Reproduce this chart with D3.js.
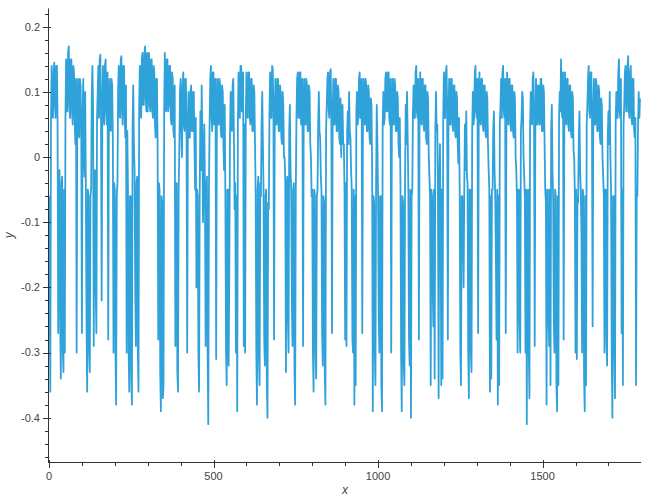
<!DOCTYPE html>
<html><head><meta charset="utf-8">
<script src="https://cdn.jsdelivr.net/npm/d3@7/dist/d3.min.js"></script>
<style>body{margin:0;background:#fff}</style></head>
<body>
<svg id="chart" width="666" height="500"></svg>
<script>
const xStep = 2;
const seg1 = [-0.06,-0.2,-0.36,0.05,0.14,0.07,0.06,0.13,0.145,0.08,0.06,0.14,0.14,0.06,-0.27,-0.03,-0.02,-0.25,-0.34,-0.04,-0.03,-0.3,-0.33,-0.05,-0.3,0.06,0.15,0.07,0.07,0.16,0.17,0.08,0.06,0.15,0.15,0.07,0.05,0.14,0.13,0.06,0.02,0.12,-0.3,0.05,0.12,0.04,0.03,0.12,0.11,0.04,-0.27,0.05,0.12,0.0,-0.03,0.1,-0.05,-0.25,-0.36,-0.05,-0.06,-0.3,-0.33,-0.06,-0.05,0.1,0.14,0.07,-0.29,-0.03,-0.02,-0.2,-0.27,0.06,0.1,0.14,0.06,0.15,0.157,0.07,-0.22,0.06,0.14,0.07,0.05,0.14,0.15,0.07,0.05,0.13,-0.28,0.06,0.12,0.05,0.04,0.12,0.11,0.03,-0.3,-0.04,-0.05,-0.3,-0.38,-0.06,-0.04,0.1,0.14,0.07,0.06,0.15,0.155,0.07,0.05,0.14,0.14,0.06,0.03,0.11,-0.3,0.04,-0.05,-0.3,-0.36,-0.06,-0.06,-0.33,-0.38,0.05,0.11,0.02,-0.02,-0.2,-0.29,-0.04,-0.03,-0.3,-0.36,0.08,0.14,0.07,0.06,0.15,0.16,0.08,0.08,0.16,0.17,0.09,0.07,0.16];
const seg2 = [0.07,0.15,0.16,0.08,0.07,0.15,0.15,0.07,0.06,0.14,0.13,0.05,0.03,0.12,0.12,0.02,-0.28,-0.04,-0.05,-0.33,-0.39,-0.06,-0.07,-0.37,-0.35,0.07,0.16,0.08,0.07,0.15,0.15,0.07,0.08,0.14,0.14,0.06,0.05,0.13,0.12,0.04,0.03,0.11,-0.29,-0.04,-0.04,-0.33,-0.36,-0.05,0.01,0.1,0.12,0.04,0.0,0.11,0.13,0.05,0.04,0.12,0.12,0.03,-0.3,0.04,0.1,0.03,0.03,0.1,0.11,0.04,0.04,0.1,0.1,0.02,-0.05,0.06,-0.2,-0.05,-0.06,-0.3,-0.36,-0.06,0.07,-0.02,0.11,0.03,-0.1,-0.02,0.05,-0.06,-0.29,-0.05,-0.03,-0.3,-0.41,-0.05,0.05,0.12,0.14,0.06,0.04,0.13,0.13,0.05,0.05,0.12,-0.31,0.04,0.12,0.05,0.05,0.12,0.11,0.04,0.03,0.11,0.1,0.02,-0.02,0.08,-0.06,-0.3,-0.35,-0.05,-0.05,-0.32,-0.17,0.03,0.1,0.05,0.04,0.11,0.12,0.03,-0.08,-0.04,-0.3,-0.06,-0.39,0.05,0.13,0.07,0.06,0.14,0.14,0.07,0.07,0.13,-0.29,0.05];
const seg3 = [-0.3,0.06,0.13,0.07,0.06,0.13,0.13,0.06,0.05,0.12,0.12,0.04,0.04,0.11,0.1,0.02,-0.05,-0.3,-0.38,-0.05,-0.03,-0.31,-0.35,-0.04,-0.06,0.05,0.1,0.02,-0.05,-0.28,-0.32,-0.06,-0.05,-0.35,-0.4,-0.07,-0.08,0.07,0.13,0.06,0.06,0.14,0.135,0.07,-0.28,0.06,0.12,0.05,0.05,0.12,0.12,0.04,0.04,0.11,0.1,0.03,0.02,0.1,0.08,0.0,0.0,-0.04,-0.33,-0.05,-0.03,-0.25,-0.3,0.04,0.08,-0.02,-0.05,-0.22,-0.29,-0.05,-0.04,-0.33,-0.38,-0.05,0.06,0.12,0.13,0.06,0.06,0.13,0.13,0.05,0.05,0.12,-0.29,0.05,0.12,0.05,0.05,0.12,0.11,0.04,0.04,0.11,0.1,0.02,0.0,-0.06,-0.05,-0.3,-0.36,-0.05,-0.06,-0.3,-0.34,-0.06,-0.05,0.05,0.1,0.04,0.03,-0.03,-0.05,-0.27,-0.32,-0.06,-0.07,-0.33,-0.38,0.04,0.08,0.12,0.13,0.07,0.06,0.13,0.135,0.06,-0.27,0.06,0.12,0.05,0.05,0.12,0.12,0.04,0.04,0.11,0.1,0.03,0.02,0.09,0.0,0.07];
const seg4 = [0.08,0.02,0.02,-0.05,-0.28,-0.04,-0.29,0.04,0.07,0.02,0.1,0.04,0.03,-0.02,-0.05,-0.28,-0.3,-0.05,-0.38,-0.06,-0.35,0.07,0.1,0.05,0.06,0.12,0.13,0.06,0.06,0.12,-0.27,0.05,0.12,0.05,0.05,0.12,0.11,0.04,0.04,0.11,0.1,0.03,0.02,0.09,0.08,-0.02,-0.39,-0.06,-0.07,-0.3,-0.35,-0.04,0.08,0.02,-0.06,-0.25,-0.3,-0.06,-0.06,-0.35,-0.39,0.05,0.1,0.05,0.06,0.12,0.13,0.07,0.07,0.13,0.13,0.06,0.05,0.12,-0.3,0.05,0.12,0.05,0.05,0.12,0.11,0.04,0.04,0.1,0.09,0.02,0.0,0.06,-0.04,-0.3,-0.39,-0.06,-0.07,-0.32,-0.35,-0.04,0.08,0.02,0.1,0.03,-0.05,-0.28,-0.32,-0.05,-0.4,-0.06,-0.05,0.07,0.11,0.06,0.06,0.13,0.14,0.07,0.06,0.12,-0.28,0.05,0.13,0.06,0.05,0.12,0.12,0.05,0.04,0.11,0.11,0.03,0.02,0.1,0.09,0.0,-0.03,-0.06,-0.35,-0.05,-0.06,-0.2,-0.26,-0.05,-0.34,0.04,0.1,0.04,0.05,-0.05,-0.37,-0.05,0.02,-0.08];
const seg5 = [-0.35,-0.05,-0.34,0.06,0.13,0.06,0.06,0.13,0.14,0.07,-0.28,0.06,0.12,0.05,0.05,0.12,0.12,0.05,0.04,0.11,0.11,0.04,0.03,0.1,0.09,0.02,-0.01,0.06,-0.05,-0.3,-0.35,-0.06,-0.06,-0.12,-0.2,-0.05,0.05,-0.02,0.07,-0.03,-0.04,-0.3,-0.37,-0.05,-0.05,-0.3,-0.33,0.04,0.1,0.05,0.06,0.13,0.14,0.07,0.06,0.12,-0.27,0.06,0.13,0.06,0.05,0.12,0.12,0.05,0.04,0.11,0.11,0.04,0.03,0.1,0.09,0.02,-0.02,-0.05,-0.36,-0.06,-0.34,-0.05,-0.05,0.04,0.07,-0.02,-0.06,-0.15,-0.28,-0.05,-0.38,-0.06,-0.35,0.05,0.08,0.12,0.06,0.13,0.14,0.07,0.06,0.12,-0.27,0.05,0.13,0.06,0.05,0.12,0.12,0.05,0.04,0.11,0.11,0.04,0.03,0.1,0.09,0.0,-0.02,-0.06,-0.3,-0.05,-0.05,-0.25,-0.3,0.04,0.06,0.1,0.09,0.0,-0.03,-0.06,-0.3,-0.05,-0.41,-0.06,-0.05,-0.3,-0.37,0.05,0.1,0.06,0.05,0.12,0.13,0.06,-0.29,0.05,0.12,0.05,0.05,0.11];
const seg6 = [0.11,0.05,0.05,0.12,0.12,0.04,0.04,0.11,0.1,0.02,-0.05,-0.07,-0.38,-0.05,-0.05,-0.25,-0.29,-0.05,-0.35,0.04,0.08,-0.02,-0.06,-0.25,-0.3,-0.05,-0.06,-0.35,-0.39,-0.06,-0.35,0.06,0.1,0.07,0.15,0.07,0.06,0.13,-0.28,0.06,0.13,0.06,0.05,0.12,0.12,0.05,0.04,0.11,0.11,0.04,0.03,0.1,0.09,0.01,0.0,-0.06,-0.3,-0.05,-0.31,-0.06,-0.07,0.03,0.07,-0.02,-0.05,-0.12,-0.3,-0.05,-0.06,-0.34,-0.39,-0.06,-0.35,0.05,0.08,0.12,0.14,0.07,0.06,0.13,0.13,0.06,-0.26,0.06,0.12,0.05,0.05,0.12,0.11,0.04,0.04,0.11,0.1,0.03,0.02,0.09,0.08,0.0,-0.03,-0.06,-0.3,-0.05,-0.05,-0.28,-0.32,0.03,0.07,0.02,0.1,0.0,-0.05,-0.3,-0.4,-0.06,-0.06,-0.3,-0.37,0.05,0.1,0.06,0.06,0.13,0.15,0.07,0.06,0.12,-0.27,-0.05,-0.35,0.05,0.08,0.13,0.14,0.07,0.07,0.14,0.155,0.07,0.06,0.13,0.14,0.06,0.05,0.12,0.12,0.04,0.03,0.06,-0.35,-0.05,-0.06,0.05,0.1,0.06,0.09];
const xTickValues = [0, 500, 1000, 1500];
const xMinorStep = 100;
const yTickValues = [-0.4, -0.3, -0.2, -0.1, 0, 0.1, 0.2];
const yMinorStep = 0.02;
const xLabel = "x", yLabel = "y";
const lineColor = "#30a2da";

// ---- build ----
const yValues = [].concat(seg1, seg2, seg3, seg4, seg5, seg6);
const data = yValues.map((v, i) => ({x: i * xStep, y: v}));

const plot = {left: 49, right: 641, top: 8.5, bottom: 462};
const svg = d3.select("#chart");

const xExt = d3.extent(data, d => d.x);
const x = d3.scaleLinear().domain([xExt[0], Math.max(xExt[1], 1799)]).range([plot.left, plot.right]);
const yExt = d3.extent(data, d => d.y);
const pad = (yExt[1] - yExt[0]) * 0.1;
const y = d3.scaleLinear().domain([yExt[0] - pad, yExt[1] + pad]).range([plot.bottom, plot.top]);

// line
svg.append("path")
  .datum(data)
  .attr("fill", "none")
  .attr("stroke", lineColor)
  .attr("stroke-width", 1.8)
  .attr("stroke-linejoin", "round")
  .attr("d", d3.line().x(d => x(d.x)).y(d => y(d.y)));

const fontFam = "Helvetica, Arial, 'Liberation Sans', sans-serif";
const axisColor = "#333";

// minor ticks
const xMinor = d3.range(0, x.domain()[1], xMinorStep).filter(v => !xTickValues.includes(v));
const yD = y.domain();
const yMinor = [];
for (let k = Math.ceil(yD[0] / yMinorStep); k * yMinorStep <= yD[1]; k++) {
  const v = +(k * yMinorStep).toFixed(2);
  if (!yTickValues.some(t => Math.abs(t - v) < 1e-9)) yMinor.push(v);
}

// x axis
const gx = svg.append("g").attr("transform", `translate(0,${plot.bottom})`);
gx.append("line").attr("x1", plot.left).attr("x2", plot.right).attr("y1", 0.5).attr("y2", 0.5)
  .attr("stroke", axisColor).attr("stroke-width", 1);
gx.selectAll(".mj").data(xTickValues).join("line")
  .attr("x1", d => Math.round(x(d)) + 0.5).attr("x2", d => Math.round(x(d)) + 0.5)
  .attr("y1", -2).attr("y2", 6).attr("stroke", axisColor);
gx.selectAll(".mn").data(xMinor).join("line")
  .attr("x1", d => Math.round(x(d)) + 0.5).attr("x2", d => Math.round(x(d)) + 0.5)
  .attr("y1", 0).attr("y2", 4).attr("stroke", axisColor);
gx.selectAll("text").data(xTickValues).join("text")
  .attr("x", d => x(d)).attr("y", 18)
  .attr("text-anchor", "middle")
  .attr("font-family", fontFam).attr("font-size", 11).attr("fill", "#444")
  .text(d => d3.format("d")(d));

// y axis
const gy = svg.append("g").attr("transform", `translate(${plot.left},0)`);
gy.append("line").attr("x1", -0.5).attr("x2", -0.5).attr("y1", plot.top).attr("y2", plot.bottom + 1)
  .attr("stroke", axisColor).attr("stroke-width", 1);
gy.selectAll(".mj").data(yTickValues).join("line")
  .attr("y1", d => Math.round(y(d)) + 0.5).attr("y2", d => Math.round(y(d)) + 0.5)
  .attr("x1", -6).attr("x2", 2).attr("stroke", axisColor);
gy.selectAll(".mn").data(yMinor).join("line")
  .attr("y1", d => Math.round(y(d)) + 0.5).attr("y2", d => Math.round(y(d)) + 0.5)
  .attr("x1", -4).attr("x2", 0).attr("stroke", axisColor);
gy.selectAll("text").data(yTickValues).join("text")
  .attr("x", -9).attr("y", d => y(d)).attr("dy", "0.35em")
  .attr("text-anchor", "end")
  .attr("font-family", fontFam).attr("font-size", 11).attr("fill", "#444")
  .text(d => d === 0 ? "0" : d3.format(".1f")(d).replace("−", "-"));

// axis labels
svg.append("text").attr("x", (plot.left + plot.right) / 2).attr("y", 494)
  .attr("text-anchor", "middle").attr("font-family", fontFam).attr("font-size", 12)
  .attr("font-style", "italic").attr("fill", "#444").text(xLabel);
svg.append("text").attr("transform", `translate(13,${(plot.top + plot.bottom) / 2}) rotate(-90)`)
  .attr("text-anchor", "middle").attr("font-family", fontFam).attr("font-size", 12)
  .attr("font-style", "italic").attr("fill", "#444").text(yLabel);
</script>
</body></html>
